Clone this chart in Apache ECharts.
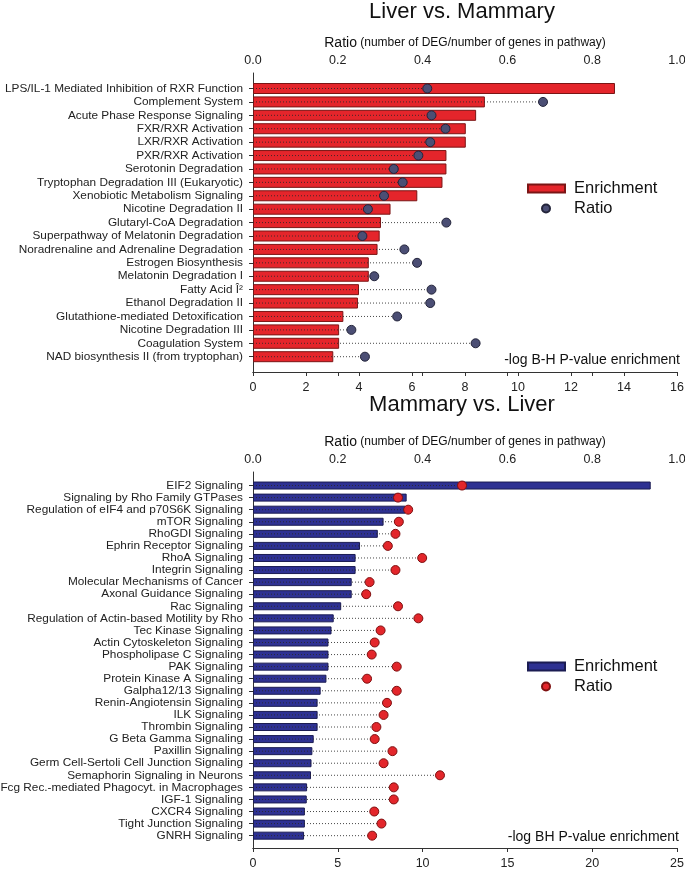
<!DOCTYPE html>
<html>
<head>
<meta charset="utf-8">
<script src="https://cdn.jsdelivr.net/npm/echarts@6/dist/echarts.min.js"></script>
<style>html,body{margin:0;padding:0;background:#fff}#c{width:685px;height:869px}</style>
</head>
<body>
<div id="c"></div>
<script>
// ---------- data ----------
const topCategories = [
  'LPS/IL-1 Mediated Inhibition of RXR Function','Complement System','Acute Phase Response Signaling',
  'FXR/RXR Activation','LXR/RXR Activation','PXR/RXR Activation','Serotonin Degradation',
  'Tryptophan Degradation III (Eukaryotic)','Xenobiotic Metabolism Signaling','Nicotine Degradation II',
  'Glutaryl-CoA Degradation','Superpathway of Melatonin Degradation','Noradrenaline and Adrenaline Degradation',
  'Estrogen Biosynthesis','Melatonin Degradation I','Fatty Acid Î²','Ethanol Degradation II',
  'Glutathione-mediated Detoxification','Nicotine Degradation III','Coagulation System',
  'NAD biosynthesis II (from tryptophan)'
];
const topEnrichment = [13.66, 8.75, 8.42, 8.03, 8.03, 7.30, 7.30, 7.15, 6.20, 5.19, 4.83, 4.78, 4.70, 4.37, 4.37, 4.00, 3.96, 3.41, 3.25, 3.25, 3.03];
const topRatio = [0.411, 0.684, 0.421, 0.454, 0.418, 0.390, 0.332, 0.353, 0.309, 0.271, 0.456, 0.258, 0.357, 0.387, 0.286, 0.421, 0.418, 0.340, 0.232, 0.525, 0.264];

const bottomCategories = [
  'EIF2 Signaling','Signaling by Rho Family GTPases','Regulation of eIF4 and p70S6K Signaling','mTOR Signaling',
  'RhoGDI Signaling','Ephrin Receptor Signaling','RhoA Signaling','Integrin Signaling',
  'Molecular Mechanisms of Cancer','Axonal Guidance Signaling','Rac Signaling',
  'Regulation of Actin-based Motility by Rho','Tec Kinase Signaling','Actin Cytoskeleton Signaling',
  'Phospholipase C Signaling','PAK Signaling','Protein Kinase A Signaling','Galpha12/13 Signaling',
  'Renin-Angiotensin Signaling','ILK Signaling','Thrombin Signaling','G Beta Gamma Signaling',
  'Paxillin Signaling','Germ Cell-Sertoli Cell Junction Signaling','Semaphorin Signaling in Neurons',
  'Fcg Rec.-mediated Phagocyt. in Macrophages','IGF-1 Signaling','CXCR4 Signaling',
  'Tight Junction Signaling','GNRH Signaling'
];
const bottomEnrichment = [23.45, 9.06, 8.99, 7.70, 7.36, 6.31, 6.05, 6.05, 5.82, 5.82, 5.20, 4.76, 4.63, 4.45, 4.45, 4.45, 4.33, 3.99, 3.81, 3.81, 3.81, 3.58, 3.50, 3.45, 3.42, 3.19, 3.17, 3.06, 3.06, 3.01];
const bottomRatio = [0.493, 0.342, 0.366, 0.344, 0.336, 0.318, 0.399, 0.336, 0.275, 0.267, 0.342, 0.390, 0.301, 0.287, 0.280, 0.339, 0.269, 0.339, 0.316, 0.308, 0.291, 0.287, 0.329, 0.308, 0.441, 0.332, 0.332, 0.286, 0.303, 0.281];

const topTitle = 'Liver vs. Mammary';
const bottomTitle = 'Mammary vs. Liver';
const topEnrichName = '-log B-H P-value enrichment';
const bottomEnrichName = '-log BH P-value enrichment';

// ---------- styles ----------
const FONT = "'Liberation Sans', Arial, sans-serif";
const AX = '#333';

function ratioAxis(gridIndex, show) {
  return {
    gridIndex, type: 'value', position: 'top', min: 0, max: 1, interval: 0.2, show,
    name: show ? '{a|Ratio} {b|(number of DEG/number of genes in pathway)}' : '',
    nameLocation: 'middle', nameGap: 23, nameMoveOverlap: false,
    nameTextStyle: { rich: { a: { fontSize: 14, fontFamily: FONT, color: '#111' }, b: { fontSize: 12, fontFamily: FONT, color: '#111' } } },
    axisLine: { show: true, lineStyle: { color: AX, width: 1 } },
    axisTick: { show: true, inside: true, length: 4, lineStyle: { color: AX } },
    axisLabel: { show: true, margin: 6, fontSize: 12.5, fontFamily: FONT, color: '#222', formatter: v => v.toFixed(1) },
    splitLine: { show: false }
  };
}
function enrichAxis(gridIndex, max, interval, show) {
  return {
    gridIndex, type: 'value', position: 'bottom', min: 0, max, interval, show,
    axisLine: { show: true, lineStyle: { color: AX, width: 1 } },
    axisTick: { show: true, inside: false, length: 4, lineStyle: { color: AX } },
    axisLabel: { show: true, margin: 9, fontSize: 12.5, fontFamily: FONT, color: '#222' },
    splitLine: { show: false }
  };
}
function frameY(gridIndex) {
  return { gridIndex, type: 'value', min: 0, max: 1,
    axisLine: { show: true, lineStyle: { color: AX, width: 1 } },
    axisTick: { show: false }, axisLabel: { show: false }, splitLine: { show: false } };
}
function catY(gridIndex, cats) {
  return { gridIndex, type: 'category', data: cats, inverse: true,
    axisLine: { show: false },
    axisTick: { show: true, alignWithLabel: true, length: 4, lineStyle: { color: AX } },
    axisLabel: { interval: 0, margin: 10, fontSize: 11.8, fontFamily: FONT, color: '#222' },
    splitLine: { show: false } };
}
function dotted(name, xi, yi, ratios, cats) {
  return {
    name, type: 'custom', xAxisIndex: xi, yAxisIndex: yi, z: 3, silent: true,
    data: ratios.map((r, i) => [r, cats[i]]),
    encode: { x: 0, y: 1 },
    renderItem: (params, api) => {
      const p0 = api.coord([0, api.value(1)]);
      const p1 = api.coord([api.value(0), api.value(1)]);
      return { type: 'line', shape: { x1: p0[0], y1: p0[1], x2: p1[0], y2: p1[1] },
        style: { stroke: 'rgba(40,40,40,0.85)', lineWidth: 1, lineDash: [1, 2] } };
    }
  };
}
const gridBase = { left: 253, right: 8, containLabel: false, outerBoundsMode: 'none' };
const legendBase = { padding: 0, orient: 'vertical', formatter: n => n.split(' (')[0] };

const option = {
  backgroundColor: '#fff',
  animation: false,
  title: [
    { text: topTitle, left: 462, top: 1, padding: 0, textAlign: 'center', textStyle: { fontSize: 22, fontWeight: 'normal', fontFamily: FONT, color: '#111' } },
    { text: bottomTitle, left: 462, top: 394, padding: 0, textAlign: 'center', textStyle: { fontSize: 22, fontWeight: 'normal', fontFamily: FONT, color: '#111' } },
    { text: topEnrichName, right: 5, top: 353, padding: 0, textStyle: { fontSize: 14, fontWeight: 'normal', fontFamily: FONT, color: '#111' } },
    { text: bottomEnrichName, right: 6, top: 830, padding: 0, textStyle: { fontSize: 14, fontWeight: 'normal', fontFamily: FONT, color: '#111' } }
  ],
  legend: [
    Object.assign({ data: ['Enrichment (top)'], left: 527, top: 180, icon: 'rect', itemWidth: 37, itemHeight: 8,
      textStyle: { fontSize: 16.5, fontFamily: FONT, color: '#111', padding: [0, 0, 0, 4] } }, legendBase),
    Object.assign({ data: ['Ratio (top)'], left: 541, top: 200, icon: 'circle', itemWidth: 8, itemHeight: 8,
      textStyle: { fontSize: 16.5, fontFamily: FONT, color: '#111', padding: [0, 0, 0, 19] } }, legendBase),
    Object.assign({ data: ['Enrichment (bottom)'], left: 527, top: 658, icon: 'rect', itemWidth: 37, itemHeight: 8,
      textStyle: { fontSize: 16.5, fontFamily: FONT, color: '#111', padding: [0, 0, 0, 4] } }, legendBase),
    Object.assign({ data: ['Ratio (bottom)'], left: 541, top: 678, icon: 'circle', itemWidth: 8, itemHeight: 8,
      textStyle: { fontSize: 16.5, fontFamily: FONT, color: '#111', padding: [0, 0, 0, 19] } }, legendBase)
  ],
  grid: [
    Object.assign({ top: 73, height: 299 }, gridBase),
    Object.assign({ top: 81.8, height: 281.6 }, gridBase),
    Object.assign({ top: 472, height: 376 }, gridBase),
    Object.assign({ top: 479.5, height: 362.2 }, gridBase)
  ],
  xAxis: [
    ratioAxis(0, true),
    enrichAxis(0, 16, 2, true),
    ratioAxis(1, false),
    enrichAxis(1, 16, 2, false),
    ratioAxis(2, true),
    enrichAxis(2, 25, 5, true),
    ratioAxis(3, false),
    enrichAxis(3, 25, 5, false)
  ],
  yAxis: [
    frameY(0),
    catY(1, topCategories),
    frameY(2),
    catY(3, bottomCategories)
  ],
  series: [
    { name: 'Enrichment (top)', type: 'bar', xAxisIndex: 3, yAxisIndex: 1, barWidth: 11, z: 2,
      data: topEnrichment,
      itemStyle: { color: '#e4252b', borderColor: '#7a1515', borderWidth: 1 } },
    dotted('dots-top', 2, 1, topRatio, topCategories),
    { name: 'Ratio (top)', type: 'scatter', xAxisIndex: 2, yAxisIndex: 1, z: 4, symbolSize: 9,
      data: topRatio.map((r, i) => [r, topCategories[i]]),
      itemStyle: { color: '#4b4e74', borderColor: '#23243a', borderWidth: 1, opacity: 1 } },

    { name: 'Enrichment (bottom)', type: 'bar', xAxisIndex: 7, yAxisIndex: 3, barWidth: 8, z: 2,
      data: bottomEnrichment,
      itemStyle: { color: '#2e3192', borderColor: '#1b1c52', borderWidth: 1 } },
    dotted('dots-bottom', 6, 3, bottomRatio, bottomCategories),
    { name: 'Ratio (bottom)', type: 'scatter', xAxisIndex: 6, yAxisIndex: 3, z: 4, symbolSize: 9,
      data: bottomRatio.map((r, i) => [r, bottomCategories[i]]),
      itemStyle: { color: '#e3262b', borderColor: '#7e1010', borderWidth: 1, opacity: 1 } }
  ]
};

const chart = echarts.init(document.getElementById('c'), null, { renderer: 'canvas' });
chart.setOption(option);
</script>
</body>
</html>
